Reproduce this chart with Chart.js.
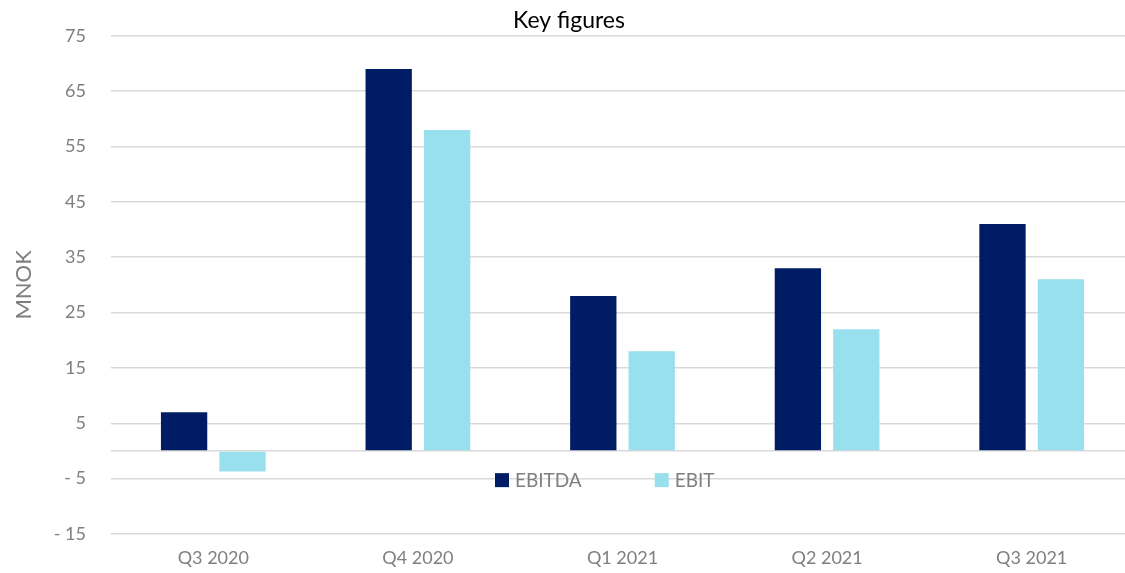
<!DOCTYPE html>
<html>
<head>
<meta charset="utf-8">
<title>Key figures</title>
<script src="https://cdn.jsdelivr.net/npm/chart.js@4.4.0/dist/chart.umd.min.js"></script>
<style>
  html, body { margin: 0; padding: 0; background: #fff; overflow: hidden; }
  #chart { display: block; }
</style>
</head>
<body>
<canvas id="chart" width="1134" height="573"></canvas>
<script>
const quarters = ['Q3 2020', 'Q4 2020', 'Q1 2021', 'Q2 2021', 'Q3 2021'];
const ebitda = [7, 69, 28, 33, 41];
const ebit = [-3.7, 58, 18, 22, 31];
const yTicks = [-15, -5, 0, 5, 15, 25, 35, 45, 55, 65, 75];

const FONT = 'Lato, "Open Sans", sans-serif';
const GREY = '#7f7f7f';

// legend sits inside the plot, over the -5 gridline
const innerLegend = {
    id: 'innerLegend',
    afterDraw(chart) {
        const ctx = chart.ctx;
        const y = chart.scales.y.getPixelForValue(-5) + 1.5;
        const box = 14, gap = 6, spacing = 73;
        ctx.save();
        ctx.font = '19px ' + FONT;
        ctx.textBaseline = 'middle';
        let x = 495;
        chart.data.datasets.forEach(ds => {
            const w = box + gap + ctx.measureText(ds.label).width;
            ctx.fillStyle = ds.backgroundColor;
            ctx.fillRect(x, y - box / 2, box, box);
            ctx.fillStyle = GREY;
            ctx.fillText(ds.label, x + box + gap, y + 1);
            x += w + spacing;
        });
        ctx.restore();
    }
};

new Chart(document.getElementById('chart'), {
    type: 'bar',
    data: {
        labels: quarters,
        datasets: [
            { label: 'EBITDA', data: ebitda, backgroundColor: '#001c64', borderWidth: 0 },
            { label: 'EBIT', data: ebit, backgroundColor: '#99e0ef', borderWidth: 0 }
        ]
    },
    options: {
        responsive: false,
        animation: false,
        layout: { padding: { left: 4, right: 0, top: 0, bottom: 0 } },
        datasets: {
            bar: { categoryPercentage: 0.571, barPercentage: 0.793 }
        },
        plugins: {
            legend: { display: false },
            tooltip: { enabled: false },
            title: {
                display: true,
                text: 'Key figures',
                color: '#000',
                font: { family: FONT, size: 23, weight: 'normal' },
                padding: { top: 6, bottom: 1 }
            }
        },
        scales: {
            x: {
                grid: { display: false },
                border: { display: false },
                ticks: { color: GREY, font: { family: FONT, size: 18 }, padding: 5 },
                afterFit(axis) { axis.height = 39; }
            },
            y: {
                min: -15,
                max: 75,
                afterBuildTicks(axis) {
                    axis.ticks = yTicks.map(v => ({ value: v }));
                },
                afterFit(axis) { axis.width = 107; },
                grid: { color: '#d9d9d9', lineWidth: 1.5, drawTicks: false },
                border: { display: false },
                ticks: {
                    color: GREY,
                    font: { family: FONT, size: 18 },
                    padding: 25,
                    callback: v => v === 0 ? '' : (v < 0 ? '- ' + Math.abs(v) : String(v))
                },
                title: {
                    display: true,
                    text: 'MNOK',
                    color: GREY,
                    font: { family: FONT, size: 22 },
                    padding: { top: 7, bottom: 8 }
                }
            }
        }
    },
    plugins: [innerLegend]
});
</script>
</body>
</html>
